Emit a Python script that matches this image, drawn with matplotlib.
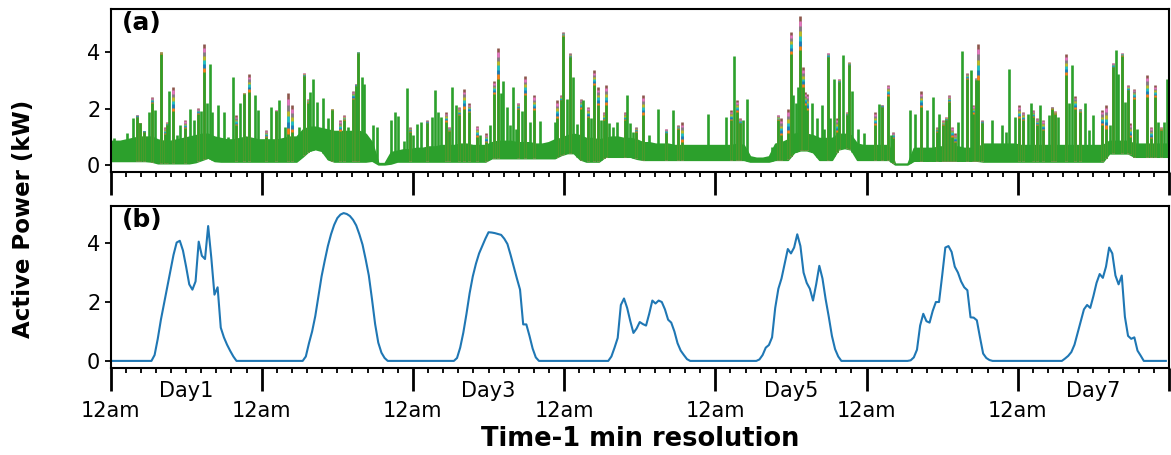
import numpy as np
import matplotlib
matplotlib.use("Agg")
import matplotlib.pyplot as plt
from matplotlib.ticker import FixedLocator, FixedFormatter

# ---------------- data: panel (a) household load, 1-min data summarised ----------------
# lower envelope and dense body level, one value per hour (hour centres)
base_kw = [
    0.14,0.14,0.14,0.14,0.14,0.14,0.12,0.06,0.06,0.06,0.06,0.06,0.06,0.1,0.18,0.26,0.14,0.12,0.12,0.12,0.12,0.12,0.12,0.12,
    0.12,0.12,0.12,0.12,0.12,0.12,0.3,0.5,0.56,0.5,0.2,0.12,0.12,0.12,0.12,0.12,0.12,0.15,0.02,0.02,0.05,0.12,0.12,0.12,
    0.12,0.12,0.12,0.12,0.12,0.12,0.12,0.12,0.12,0.12,0.12,0.12,0.24,0.24,0.24,0.24,0.24,0.24,0.24,0.24,0.24,0.24,0.24,0.35,
    0.42,0.42,0.2,0.12,0.12,0.12,0.29,0.29,0.29,0.29,0.29,0.22,0.18,0.18,0.18,0.18,0.18,0.18,0.18,0.18,0.18,0.18,0.18,0.18,
    0.18,0.18,0.18,0.18,0.18,0.12,0.12,0.12,0.12,0.18,0.18,0.18,0.45,0.52,0.52,0.45,0.18,0.18,0.18,0.55,0.6,0.55,0.18,0.18,
    0.18,0.18,0.18,0.18,0.02,0.02,0.02,0.15,0.15,0.15,0.15,0.15,0.15,0.15,0.15,0.15,0.15,0.15,0.12,0.12,0.12,0.12,0.12,0.12,
    0.12,0.12,0.12,0.12,0.12,0.12,0.12,0.12,0.12,0.12,0.12,0.12,0.12,0.12,0.41,0.41,0.41,0.41,0.29,0.29,0.29,0.29,0.29,0.29,
]
body_kw = [
    0.85,0.85,0.9,0.95,1.0,1.0,1.0,0.9,0.85,0.85,0.9,0.95,1.0,1.05,1.1,1.1,1.0,0.95,0.9,0.9,0.95,1.0,0.95,0.9,
    0.9,0.9,0.9,0.95,1.0,1.0,1.25,1.35,1.35,1.3,1.25,1.2,1.2,1.2,1.2,1.2,1.1,0.8,0.06,0.06,0.45,0.5,0.55,0.55,
    0.6,0.6,0.65,0.65,0.7,0.7,0.7,0.75,0.75,0.7,0.7,0.7,0.8,0.85,0.85,0.85,0.8,0.8,0.8,0.75,0.75,0.8,0.9,0.95,
    1.05,1.1,1.05,0.95,0.95,0.9,0.95,1.0,1.0,0.95,0.95,0.9,0.8,0.8,0.75,0.75,0.75,0.7,0.7,0.7,0.7,0.7,0.7,0.7,
    0.7,0.7,0.7,0.75,0.7,0.3,0.25,0.25,0.3,0.75,0.8,0.9,1.1,1.15,1.1,1.05,0.95,0.95,0.95,1.1,1.1,1.05,0.75,0.7,
    0.7,0.7,0.7,0.7,0.04,0.04,0.04,0.6,0.6,0.6,0.6,0.65,0.65,0.65,0.65,0.6,0.6,0.6,0.75,0.75,0.75,0.75,0.75,0.75,
    0.7,0.7,0.7,0.7,0.7,0.7,0.7,0.7,0.7,0.7,0.7,0.7,0.7,0.7,0.85,0.85,0.85,0.85,0.75,0.75,0.75,0.75,0.75,0.75,
]
# individual load spikes: time (h), peak of the green series (kW), peak of the tallest other series (kW)
spike_hour = [
    0.56,2.67,3.62,4.15,4.68,5.37,6.11,6.53,7.06,8.02,8.65,8.92,9.34,9.97,10.50,11.03,11.82,12.62,13.31,13.84,14.36,14.84,15.26,15.79,16.16,17.12,18.07,18.70,19.39,19.92,20.56,21.24,22.04,22.94,23.47,
    24.74,25.42,26.22,26.80,27.70,28.23,28.76,29.97,30.71,31.29,31.66,32.19,32.72,33.78,34.47,35.11,35.90,36.43,37.01,37.65,38.44,38.92,39.34,39.87,40.29,40.93,41.61,42.25,44.52,45.16,45.69,46.59,47.01,47.54,
    48.07,48.60,49.23,50.29,50.98,51.51,51.93,52.46,53.25,53.78,54.26,54.84,55.37,56.16,56.90,58.12,58.65,59.60,60.24,60.87,61.45,61.93,62.35,62.99,63.41,63.83,64.31,64.73,65.26,65.79,66.59,67.22,68.17,70.56,70.93,71.45,71.88,
    72.51,72.94,73.46,74.10,74.68,75.05,75.85,76.22,76.75,77.33,77.80,78.33,78.65,79.18,79.71,80.34,81.67,81.93,82.46,82.99,83.41,84.57,85.47,86.95,88.12,89.23,90.13,90.76,94.78,
    97.64,98.44,98.96,99.39,99.92,100.45,100.98,104.94,106.0,106.37,107.59,108.01,108.38,108.75,109.07,109.49,109.86,110.23,110.55,111.29,112.09,112.88,113.25,113.83,114.20,114.84,115.26,115.68,116.32,116.85,117.27,117.75,118.70,119.65,
    121.35,122.03,122.51,123.46,123.89,124.26,126.91,127.65,128.65,129.66,130.61,131.14,131.56,132.20,132.57,133.10,133.52,134.05,134.58,135.11,136.01,136.54,136.96,137.38,137.75,138.28,139.87,141.56,142.15,142.67,143.57,
    144.26,144.79,145.58,146.11,146.48,147.01,147.54,147.97,148.97,149.50,149.92,150.45,151.62,152.20,152.62,153.10,153.89,154.68,155.37,156.01,157.44,157.97,158.65,159.08,159.55,159.98,160.56,161.03,161.46,161.83,162.52,162.99,164.47,165.11,165.80,166.33,166.75,167.28,167.65,
]
spike_kw = [
    0.96,1.14,1.65,1.7,1.47,1.18,1.86,2.2,1.94,3.95,1.1,1.4,2.61,1.9,1.06,1.41,1.3,2.0,1.59,1.8,1.9,3.3,2.18,3.59,1.86,2.12,1.86,1.0,3.12,1.4,2.18,2.5,2.6,2.49,1.94,
    1.0,2.06,1.9,2.32,1.35,1.1,1.15,1.35,3.15,2.2,2.59,3.04,2.24,2.38,1.65,1.95,1.18,1.2,1.6,1.35,2.35,2.8,3.98,3.12,2.88,0.88,1.41,1.35,1.59,1.86,1.74,0.85,2.73,1.18,
    1.06,1.44,1.53,1.47,1.7,2.65,1.88,1.7,1.53,1.2,2.76,2.14,1.76,2.0,1.88,1.0,1.06,0.82,1.41,2.53,3.06,2.56,2.96,2.06,1.41,2.76,1.29,2.0,1.9,2.47,1.53,1.94,1.55,1.53,1.65,2.29,4.59,
    2.35,3.82,3.12,1.44,2.0,2.29,1.7,1.65,2.82,2.12,1.59,1.59,2.12,1.47,1.35,1.53,1.59,2.49,1.47,1.18,1.18,1.76,1.06,2.0,1.12,1.94,1.29,0.82,1.8,
    1.7,1.59,3.88,1.88,1.47,1.59,2.33,0.65,1.59,1.06,1.12,3.94,2.47,2.18,2.76,4.06,2.76,2.12,1.94,2.21,1.65,2.12,1.29,3.82,1.65,3.04,1.18,2.94,3.9,1.76,3.53,2.61,1.27,1.12,
    1.41,2.15,2.06,2.45,1.06,0.94,1.94,1.8,2.06,1.94,2.41,1.18,1.82,1.41,1.59,2.24,1.0,0.82,1.53,4.04,3.06,3.38,1.82,3.0,3.0,1.47,1.59,1.41,1.18,3.41,1.7,
    1.65,1.59,1.82,2.21,1.71,1.41,2.12,1.24,1.76,2.0,1.82,1.71,3.18,2.18,3.55,2.0,1.88,2.21,1.24,1.76,1.41,1.29,1.41,3.47,4.09,3.24,3.88,2.24,2.65,1.0,2.35,1.29,2.41,0.94,2.41,1.53,1.24,1.53,3.04,
]
spike_tip_kw = [
    0.96,1.14,1.65,1.78,1.5,1.2,1.86,2.4,1.94,4.02,1.35,1.53,2.61,2.78,1.06,1.41,1.58,2.0,1.59,2.02,1.9,4.3,2.18,3.59,1.86,2.12,1.86,1.0,3.12,1.76,2.18,2.56,3.22,2.49,1.94,
    1.25,2.06,1.94,2.32,1.35,2.55,2.12,1.35,3.27,2.35,2.59,3.04,2.24,2.38,1.65,1.98,1.18,1.6,1.76,1.35,2.62,2.88,4.0,3.12,2.88,0.88,1.41,1.35,1.59,1.86,1.74,0.85,2.73,1.35,
    1.06,1.44,1.53,1.59,1.7,2.65,1.88,1.7,1.86,1.35,2.76,2.14,2.06,2.7,2.18,1.39,1.06,1.12,1.41,2.96,4.15,2.56,2.96,2.06,1.41,2.76,1.29,2.21,1.9,3.14,1.53,2.47,1.55,1.53,2.29,2.47,4.7,
    2.35,3.96,3.12,1.44,2.35,2.29,2.06,1.65,3.35,2.76,1.59,1.88,2.82,1.47,1.35,1.53,1.88,2.49,1.47,1.18,1.35,2.47,1.06,2.0,1.29,1.94,1.41,1.53,1.8,
    1.7,1.94,3.88,2.29,1.65,1.59,2.33,0.65,1.78,1.65,2.0,4.73,2.47,2.18,2.76,5.27,3.47,2.59,2.53,2.21,1.65,2.12,1.29,3.98,1.65,3.04,1.65,3.06,3.9,1.88,3.65,2.61,1.27,1.12,
    1.86,2.15,2.14,2.85,1.06,1.18,1.94,1.8,2.61,1.94,2.41,1.35,1.82,1.59,1.71,2.47,1.35,1.12,1.53,4.04,3.27,3.38,2.12,3.08,4.29,1.59,1.59,1.41,1.18,3.41,1.7,
    2.12,1.88,1.82,2.21,1.94,1.65,2.12,1.59,1.76,2.06,1.91,1.71,3.94,2.18,3.55,2.45,2.0,2.21,1.24,1.76,1.94,2.12,1.41,3.62,4.09,3.24,3.98,2.24,2.82,1.47,2.71,1.29,3.18,1.35,2.82,1.53,1.35,1.53,3.04,
]

# ---------------- data: panel (b) PV output, daytime values every 30 min, 07:00-20:00 ----------------
pv_day1 = [0.2,0.75,1.4,1.95,2.5,3.05,3.6,4.02,4.08,3.75,3.2,2.6,2.42,2.7,4.05,3.57,3.46,4.58,3.5,2.25,2.5,1.13,0.8,0.55,0.34,0.15,0.0]
pv_day2 = [0.15,0.6,1.0,1.52,2.2,2.87,3.4,3.9,4.3,4.62,4.85,4.97,5.02,4.99,4.92,4.79,4.6,4.3,3.95,3.45,2.9,2.1,1.25,0.62,0.28,0.1,0.0]
pv_day3 = [0.1,0.45,0.96,1.6,2.3,2.87,3.3,3.65,3.9,4.15,4.37,4.36,4.34,4.31,4.28,4.15,3.97,3.6,3.2,2.8,2.42,1.24,1.24,0.85,0.42,0.12,0.0]
pv_day4 = [0.0,0.15,0.45,0.78,1.9,2.12,1.8,1.35,0.95,1.1,1.32,1.25,1.2,1.6,2.05,1.95,2.05,2.0,1.75,1.4,1.3,1.0,0.6,0.35,0.2,0.06,0.0]
pv_day5 = [0.05,0.2,0.45,0.54,0.8,1.8,2.45,2.8,3.3,3.8,3.65,3.85,4.3,3.9,3.0,2.65,2.45,2.05,2.6,3.23,2.8,2.1,1.5,0.85,0.4,0.15,0.0]
pv_day6 = [0.02,0.12,0.38,1.2,1.6,1.35,1.3,1.7,2.0,2.0,2.9,3.85,3.9,3.7,3.2,3.0,2.7,2.5,2.4,1.48,1.47,1.38,0.8,0.25,0.1,0.03,0.0]
pv_day7 = [0.0,0.08,0.17,0.3,0.55,0.95,1.35,1.75,1.9,1.8,2.2,2.65,2.95,2.82,3.2,3.85,3.65,2.9,2.6,2.9,1.5,0.85,0.75,0.8,0.35,0.18,0.0]
night_before_kw = [0.0] * 14   # 00:00 - 06:30
night_after_kw = [0.0] * 7     # 20:30 - 23:30

day_labels = ["Day1", "Day3", "Day5", "Day7"]
midnight_label = "12am"
panel_labels = ["(a)", "(b)"]
ylabel = "Active Power (kW)"
xlabel = "Time-1 min resolution"

# ---------------- figure ----------------
W, H = 1171, 455
fig = plt.figure(figsize=(W / 100, H / 100), dpi=100)
L, R = 110.5, 1169.0
ax1 = fig.add_axes([L / W, 1 - 171.7 / H, (R - L) / W, (171.7 - 9.0) / H])
ax2 = fig.add_axes([L / W, 1 - 368.3 / H, (R - L) / W, (368.3 - 205.7) / H])

green = "#2ca02c"
tip_colors = ["#8c564b", "#e377c2", "#7f7f7f", "#bcbd22", "#17becf", "#1f77b4", "#ff7f0e"]

# panel (a)
hour_mid = np.arange(len(base_kw)) + 0.5
xb = np.concatenate([[0.0], hour_mid, [168.0]])
lo = np.concatenate([[base_kw[0]], base_kw, [base_kw[-1]]])
hi = np.concatenate([[body_kw[0]], body_kw, [body_kw[-1]]])
ax1.fill_between(xb, lo, hi, color=green, lw=1.2, edgecolor=green)

sh = np.array(spike_hour)
sk = np.array(spike_kw)
st = np.array(spike_tip_kw)
assert len(sh) == len(sk) == len(st)
smin = np.interp(sh, hour_mid, base_kw)
has_tip = st > sk
n = len(tip_colors)
for k, c in enumerate(tip_colors):
    top = sk + (st - sk) * (1 - k / n)
    ax1.vlines(sh[has_tip], smin[has_tip], top[has_tip], color=c, lw=1.9)
ax1.vlines(sh, smin, sk, color=green, lw=1.9)

# panel (b)
pv_kw = np.concatenate([night_before_kw + d + night_after_kw for d in
                        [pv_day1, pv_day2, pv_day3, pv_day4, pv_day5, pv_day6, pv_day7]])
pv_hour = np.arange(len(pv_kw)) * 0.5
ax2.plot(pv_hour, pv_kw, color="#1f77b4", lw=1.5)

# axes styling
major_pos = [24 * i for i in range(8)]
minor_pos = [2.4 * i for i in range(71) if i % 10 != 0]
minor_lab = [""] * len(minor_pos)
for lab, noon in zip(day_labels, [12, 60, 108, 156]):
    minor_lab[int(np.argmin(np.abs(np.array(minor_pos) - noon)))] = lab

for ax, pl in zip((ax1, ax2), panel_labels):
    ax.set_xlim(0, 168)
    ax.set_yticks([0, 2, 4])
    ax.xaxis.set_major_locator(FixedLocator(major_pos))
    ax.xaxis.set_minor_locator(FixedLocator(minor_pos))
    ax.tick_params(axis="x", which="major", length=16.8, width=2.0, direction="out")
    ax.tick_params(axis="x", which="minor", length=3.5, width=1.3, direction="out")
    ax.tick_params(axis="y", which="major", length=4.3, width=1.3, labelsize=15, pad=3)
    for s in ax.spines.values():
        s.set_linewidth(1.5)
    ax.text(0.011, 0.985, pl, transform=ax.transAxes, fontsize=18,
            fontweight="bold", va="top", ha="left")

ax1.tick_params(axis="x", which="both", labelbottom=False)
ax2.xaxis.set_major_formatter(FixedFormatter([midnight_label] * 7 + [""]))
ax2.xaxis.set_minor_formatter(FixedFormatter(minor_lab))
ax2.tick_params(axis="x", which="major", labelsize=15, pad=6.5)
ax2.tick_params(axis="x", which="minor", labelsize=15, pad=6.0)

ax2.set_xlabel(xlabel, fontsize=18.5, fontweight="bold", labelpad=4)
fig.text(24 / W, 1 - 219 / H, ylabel, rotation=90, fontsize=16.5,
         fontweight="bold", ha="center", va="center")

fig.savefig("out.png", dpi=100)
